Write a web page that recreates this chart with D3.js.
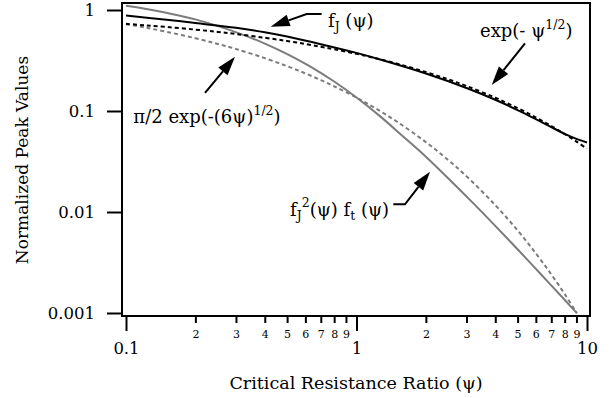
<!DOCTYPE html>
<html><head><meta charset="utf-8">
<script src="https://cdn.jsdelivr.net/npm/d3@7"></script>
<style>
body{margin:0;background:#fff}
text{font-family:"DejaVu Serif",serif;fill:#000}
</style>
</head><body>
<svg id="chart" width="609" height="398"></svg>
<script>
// ---- data ----
const psiFJ = [0.1,0.15,0.2,0.3,0.4,0.5,0.7,1,1.3,2,3,4,5,6,7,8,9,10];
const valFJ = [0.880,0.802,0.743,0.666,0.602,0.546,0.459,0.376,0.318,0.235,0.169,0.1292,0.1021,0.0830,0.0693,0.0594,0.0530,0.0488];

const psiExp = [0.1,0.12,0.15,0.2,0.25,0.3,0.4,0.5,0.6,0.7,0.8,1,1.2,1.5,2,2.5,3,4,5,6,7,8,9,10];
const valExp = [0.7289,0.7072,0.6789,0.6394,0.6065,0.5783,0.5313,0.4931,0.4609,0.4331,0.4088,0.3679,0.3344,0.2938,0.2431,0.2058,0.1769,0.1353,0.1069,0.0863,0.0710,0.0591,0.0498,0.0423];

const psiPi = [0.1,0.12,0.15,0.2,0.25,0.3,0.4,0.5,0.6,0.7,0.8,1,1.2,1.5,2,2.5,3,4,5,6,7,8,9,9.03];
const valPi = [0.7240,0.6723,0.6082,0.5253,0.4615,0.4106,0.3336,0.2779,0.2356,0.2024,0.1757,0.1356,0.1074,0.0782,0.0492,0.0327,0.0226,0.0117,0.00657,0.00389,0.00241,0.00154,0.00101,0.00100];

const psiFJ2 = [0.1,0.126,0.158,0.2,0.251,0.316,0.398,0.501,0.631,0.794,1,1.26,1.58,2,2.51,3.16,3.98,5.01,6.31,7.94,8.91,9.06];
const valFJ2 = [1.100,1.011,0.914,0.807,0.692,0.577,0.468,0.366,0.275,0.198,0.136,0.0895,0.0569,0.0353,0.02135,0.01266,0.00738,0.00425,0.00242,0.001375,0.001035,0.00100];

const xMajorTicks = [0.1,1,10];
const xMajorLabels = ["0.1","1","10"];
const xMinorTicks = [0.2,0.3,0.4,0.5,0.6,0.7,0.8,0.9,2,3,4,5,6,7,8,9];
const xMinorLabels = ["2","3","4","5","6","7","8","9","2","3","4","5","6","7","8","9"];
const yTicks = [1,0.1,0.01,0.001];
const yLabels = ["1","0.1","0.01","0.001"];

// ---- layout ----
const svg = d3.select("#chart");
const x = d3.scaleLog().domain([0.1,10]).range([126,587]);
const y = d3.scaleLog().domain([1,0.001]).range([10,313]);
const frame = {left:122, top:3, right:590, bottom:316};
const BLACK = "#000", GRAY = "#7c7c7c";
const FONT = '"DejaVu Serif",serif';

const line = d3.line().x(d=>x(d[0])).y(d=>y(d[1])).curve(d3.curveCatmullRom.alpha(0.5));
const zip = (a,b)=>a.map((v,i)=>[v,b[i]]);

svg.append("path").datum(zip(psiPi,valPi)).attr("d",line)
  .attr("fill","none").attr("stroke",GRAY).attr("stroke-width",2).attr("stroke-dasharray","4,3");
svg.append("path").datum(zip(psiFJ2,valFJ2)).attr("d",line)
  .attr("fill","none").attr("stroke",GRAY).attr("stroke-width",2);
svg.append("path").datum(zip(psiExp,valExp)).attr("d",line)
  .attr("fill","none").attr("stroke",BLACK).attr("stroke-width",2).attr("stroke-dasharray","4,3");
svg.append("path").datum(zip(psiFJ,valFJ)).attr("d",line)
  .attr("fill","none").attr("stroke",BLACK).attr("stroke-width",2);

// frame
svg.append("rect").attr("x",frame.left).attr("y",frame.top)
  .attr("width",frame.right-frame.left).attr("height",frame.bottom-frame.top)
  .attr("fill","none").attr("stroke","#000").attr("stroke-width",2);

// x axis major
const gxM = svg.append("g").attr("transform",`translate(0,${frame.bottom})`)
  .call(d3.axisBottom(x).tickValues(xMajorTicks).tickSize(15).tickPadding(11)
    .tickFormat((d,i)=>xMajorLabels[i]));
gxM.select(".domain").remove();
gxM.selectAll("line").attr("stroke-width",2);
gxM.selectAll("text").style("font-size","16.5px").style("font-family",FONT).attr("fill","#000");

const gxm = svg.append("g").attr("transform",`translate(0,${frame.bottom})`)
  .call(d3.axisBottom(x).tickValues(xMinorTicks).tickSize(7).tickPadding(7)
    .tickFormat((d,i)=>xMinorLabels[i]));
gxm.select(".domain").remove();
gxm.selectAll("line").attr("stroke-width",2);
gxm.selectAll("text").style("font-size","11px").style("font-family",FONT).attr("fill","#000");

// y axis
const gy = svg.append("g").attr("transform",`translate(${frame.left},0)`)
  .call(d3.axisLeft(y).tickValues(yTicks).tickSize(15).tickPadding(12)
    .tickFormat((d,i)=>yLabels[i]));
gy.select(".domain").remove();
gy.selectAll("line").attr("stroke-width",2);
gy.selectAll("text").style("font-size","16.5px").style("font-family",FONT).attr("fill","#000");

// axis titles
svg.append("text").attr("x",356).attr("y",389).attr("text-anchor","middle")
  .style("font-size","17.5px").text("Critical Resistance Ratio (ψ)");
svg.append("text").attr("transform","translate(28,160) rotate(-90)").attr("text-anchor","middle")
  .style("font-size","17px").text("Normalized Peak Values");

// ---- annotations (positions in data space) ----
const FS = 18, FSS = 12.5;
function arrow(points){ // points: array of [psi,val], last is tip
  const p = points.map(d=>[x(d[0]),y(d[1])]);
  const tip = p[p.length-1], prev = p[p.length-2];
  const ang = Math.atan2(tip[1]-prev[1], tip[0]-prev[0]);
  const L = 19, W = 6;
  const bx = tip[0]-L*Math.cos(ang), by = tip[1]-L*Math.sin(ang);
  const pts = p.slice(0,-1).concat([[bx,by]]);
  svg.append("path").attr("d", d3.line()(pts)).attr("fill","none").attr("stroke","#000").attr("stroke-width",2);
  const nx = -Math.sin(ang), ny = Math.cos(ang);
  svg.append("path").attr("d", `M${tip[0]},${tip[1]}L${bx+W*nx},${by+W*ny}L${bx-W*nx},${by-W*ny}Z`).attr("fill","#000");
}

// f_J(psi)
arrow([[0.706,0.913],[0.608,0.913],[0.4244,0.6834]]);
{
  const t = svg.append("text").attr("x",x(0.752)).attr("y",y(0.683)).style("font-size",FS+"px");
  t.append("tspan").text("f");
  t.append("tspan").attr("dy",4).style("font-size",FSS+"px").text("J");
  t.append("tspan").attr("dy",-4).text(" (ψ)");
}
// exp(-psi^1/2)
arrow([[5.383,0.468],[3.86,0.181]]);
{
  const t = svg.append("text").attr("x",x(3.435)).attr("y",y(0.544)).style("font-size",FS+"px");
  t.append("tspan").text("exp(- ψ");
  t.append("tspan").attr("dy",-8).style("font-size",FSS+"px").text("1/2");
  t.append("tspan").attr("dy",8).text(")");
}
// pi/2 exp(-(6psi)^1/2)
arrow([[0.2202,0.1508],[0.2971,0.3449]]);
{
  const t = svg.append("text").attr("x",x(0.1076)).attr("y",y(0.0755)).style("font-size",FS+"px");
  t.append("tspan").text("π/2 exp(-(6ψ)");
  t.append("tspan").attr("dy",-8).style("font-size",FSS+"px").text("1/2");
  t.append("tspan").attr("dy",8).text(")");
}
// fJ^2(psi) ft(psi)
arrow([[1.444,0.01192],[1.623,0.01192],[2.084,0.02506]]);
{
  const t = svg.append("text").attr("x",x(0.5146)).attr("y",y(0.00913)).style("font-size",FS+"px");
  t.append("tspan").text("f");
  t.append("tspan").attr("dy",4).style("font-size",FSS+"px").text("J");
  t.append("tspan").attr("dy",-13).style("font-size",FSS+"px").text("2");
  t.append("tspan").attr("dy",9).text("(ψ) f");
  t.append("tspan").attr("dy",4).style("font-size",FSS+"px").text("t");
  t.append("tspan").attr("dy",-4).text(" (ψ)");
}
</script>
</body></html>
